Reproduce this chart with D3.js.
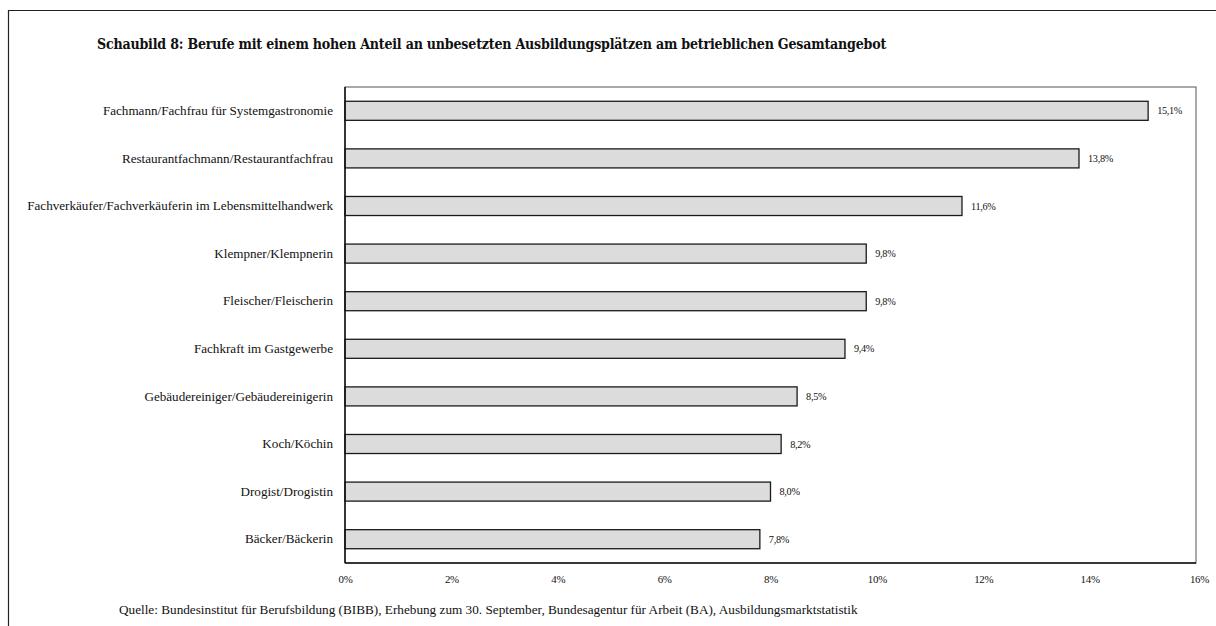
<!DOCTYPE html>
<html><head><meta charset="utf-8">
<script src="https://cdn.jsdelivr.net/npm/d3@7"></script>
<style>
html,body{margin:0;padding:0;background:#fff;}
svg text{font-family:"Liberation Serif","DejaVu Serif",serif;fill:#111;}
svg text.title{font-family:"DejaVu Serif Condensed","DejaVu Serif",serif;}
</style></head>
<body>
<script>
const categories = [
  "Fachmann/Fachfrau für Systemgastronomie",
  "Restaurantfachmann/Restaurantfachfrau",
  "Fachverkäufer/Fachverkäuferin im Lebensmittelhandwerk",
  "Klempner/Klempnerin",
  "Fleischer/Fleischerin",
  "Fachkraft im Gastgewerbe",
  "Gebäudereiniger/Gebäudereinigerin",
  "Koch/Köchin",
  "Drogist/Drogistin",
  "Bäcker/Bäckerin"
];
const values = [15.1, 13.8, 11.6, 9.8, 9.8, 9.4, 8.5, 8.2, 8.0, 7.8];
const xTicks = [0, 2, 4, 6, 8, 10, 12, 14, 16];
const title = "Schaubild 8: Berufe mit einem hohen Anteil an unbesetzten Ausbildungsplätzen am betrieblichen Gesamtangebot";
const source = "Quelle: Bundesinstitut für Berufsbildung (BIBB), Erhebung zum 30. September, Bundesagentur für Arbeit (BA), Ausbildungsmarktstatistik";

const W = 1216, H = 626;
const plot = {left: 345, top: 87, right: 1196, bottom: 563};
const de = d3.formatLocale({decimal: ",", thousands: ".", grouping: [3], currency: ["", "€"]});
const fmtVal = de.format(".1f");

const svg = d3.select("body").append("svg").attr("width", W).attr("height", H);

// fit a font size so that a text sel reaches a target width
function fitSize(sel, target) {
  const n = sel.node();
  const base = 10;
  sel.attr("font-size", base);
  const w = n.getComputedTextLength();
  return base * target / w;
}

// outer frame
svg.append("path").attr("d", `M8.5,${H+2} V10.5 H${W+2}`)
  .attr("fill", "none").attr("stroke", "#222").attr("stroke-width", 1.2);

const tTitle = svg.append("text").attr("class", "title").attr("x", 97).attr("y", 49).attr("font-weight", "bold")
  .attr("letter-spacing", -0.2).text(title);
tTitle.attr("font-size", fitSize(tTitle, 781));

const x = d3.scaleLinear().domain([0, 16]).range([plot.left, plot.right]);
const y = d3.scaleBand().domain(categories).range([plot.top, plot.bottom]).paddingInner(0.6).paddingOuter(0.3);

// plot border
svg.append("rect").attr("x", plot.left).attr("y", plot.top)
  .attr("width", plot.right - plot.left).attr("height", plot.bottom - plot.top)
  .attr("fill", "none").attr("stroke", "#555").attr("stroke-width", 1);

// bars
svg.append("g").selectAll("rect").data(values).join("rect")
  .attr("x", x(0))
  .attr("y", (d, i) => y(categories[i]))
  .attr("width", d => x(d) - x(0))
  .attr("height", y.bandwidth())
  .attr("fill", "#dcdcdc").attr("stroke", "#1a1a1a").attr("stroke-width", 1.3);

// axis lines
svg.append("line").attr("x1", plot.left).attr("x2", plot.left).attr("y1", plot.top).attr("y2", plot.bottom)
  .attr("stroke", "#111").attr("stroke-width", 1.5);
svg.append("line").attr("x1", plot.left).attr("x2", plot.right).attr("y1", plot.bottom).attr("y2", plot.bottom)
  .attr("stroke", "#111").attr("stroke-width", 1.5);

// value labels
const vl = svg.append("g").selectAll("text").data(values).join("text")
  .attr("x", d => x(d) + 9)
  .attr("y", (d, i) => y(categories[i]) + y.bandwidth() / 2)
  .attr("dy", "0.35em").attr("letter-spacing", -0.3)
  .text(d => fmtVal(d) + "%");
const vSize = fitSize(d3.select(vl.nodes()[0]), 25);
vl.attr("font-size", vSize);

// y axis labels
const yAxis = d3.axisLeft(y).tickSize(0).tickPadding(12);
const gy = svg.append("g").attr("transform", `translate(${plot.left},0)`).call(yAxis);
gy.select(".domain").remove();
const yl = gy.selectAll("text").attr("font-family", null).attr("fill", "#111");
const yLong = yl.filter(d => d === categories[2]);
const ySize = fitSize(yLong, 306);
yl.attr("font-size", ySize);

// x axis labels
const xAxis = d3.axisBottom(x).tickValues(xTicks).tickSize(0).tickPadding(12).tickFormat(d => d + "%");
const gx = svg.append("g").attr("transform", `translate(0,${plot.bottom})`).call(xAxis);
gx.select(".domain").remove();
const xl = gx.selectAll("text").attr("font-family", null).attr("fill", "#111").attr("letter-spacing", -0.3);
const xSize = fitSize(xl.filter(d => d === 10), 19);
xl.attr("font-size", xSize);
gx.selectAll(".tick").filter(d => d === 16).select("text").attr("dx", 3);

const tSrc = svg.append("text").attr("x", 119).attr("y", 614).text(source);
tSrc.attr("font-size", fitSize(tSrc, 739));
</script>
</body></html>
